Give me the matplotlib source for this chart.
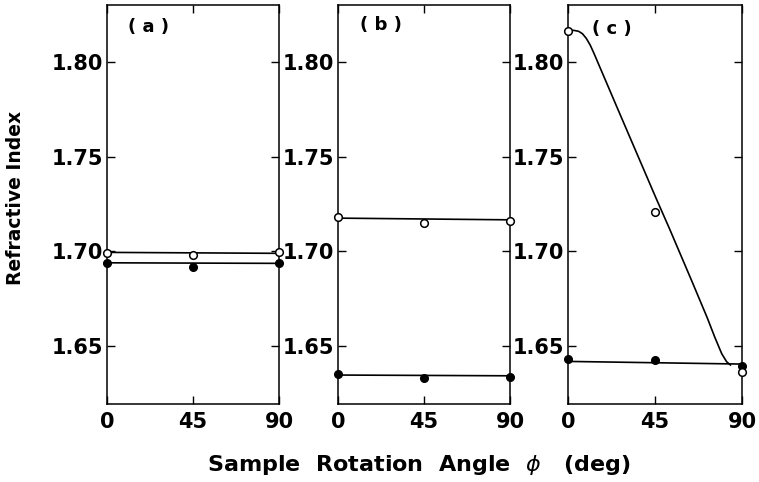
import numpy as np
import matplotlib.pyplot as plt

# rotation angles (deg)
angles = [0, 45, 90]
xticks = [0, 45, 90]
yticks = [1.65, 1.70, 1.75, 1.80]
panel_labels = ['( a )', '( b )', '( c )']

# measured refractive index, open = one direction, filled = the other
open_a = [1.6991, 1.6979, 1.6996]
filled_a = [1.6938, 1.6920, 1.6938]
open_b = [1.7184, 1.7149, 1.7162]
filled_b = [1.6351, 1.6333, 1.6339]
open_c = [1.8167, 1.7210, 1.6365]
filled_c = [1.6431, 1.6428, 1.6394]

# fitted lines (end points)
fit_x = [0, 90]
fit_open_a = [1.6995, 1.6990]
fit_filled_a = [1.6940, 1.6937]
fit_open_b = [1.7176, 1.7167]
fit_filled_b = [1.6347, 1.6343]
fit_filled_c = [1.6419, 1.6405]

# hand-drawn curve through panel (c) open points
curve_c_x = [0, 3, 5.5, 7.5, 9.5, 11.5, 13.5, 16, 18.1, 25, 35.3, 45.6, 52.5,
             64.4, 72, 76, 79.5, 82, 84]
curve_c_y = [1.8167, 1.8168, 1.8163, 1.8150, 1.8125, 1.8090, 1.8045, 1.7985,
             1.7935, 1.7770, 1.7525, 1.7280, 1.7120, 1.6835, 1.6650, 1.6545,
             1.6460, 1.6418, 1.6400]

plt.rcParams['font.family'] = 'DejaVu Sans'

fig = plt.figure(figsize=(7.59, 4.82), dpi=100)

lefts = [107 / 759, 338 / 759, 568 / 759]
widths = [172 / 759, 172 / 759, 174 / 759]
bottom = 1 - 404 / 482
height = 399 / 482

panels = [
    (open_a, filled_a, [(fit_x, fit_open_a), (fit_x, fit_filled_a)]),
    (open_b, filled_b, [(fit_x, fit_open_b), (fit_x, fit_filled_b)]),
    (open_c, filled_c, [(curve_c_x, curve_c_y), (fit_x, fit_filled_c)]),
]
label_pos = [(0.12, 0.945), (0.125, 0.95), (0.14, 0.94)]

for i, (op, fi, lines) in enumerate(panels):
    ax = fig.add_axes([lefts[i], bottom, widths[i], height])
    for lx, ly in lines:
        ax.plot(lx, ly, color='black', lw=1.2)
    ax.plot(angles, fi, 'o', color='black', ms=5.5, clip_on=False, zorder=3)
    ax.plot(angles, op, 'o', mfc='white', mec='black', mew=1.1, ms=5.5,
            clip_on=False, zorder=4)
    ax.set_xlim(0, 90)
    ax.set_ylim(1.6194, 1.8302)
    ax.set_xticks(xticks)
    ax.set_yticks(yticks)
    ax.set_xticklabels([str(t) for t in xticks], fontsize=15, fontweight='bold')
    ax.set_yticklabels(['%.2f' % t for t in yticks], fontsize=15, fontweight='bold')
    ax.tick_params(direction='in', length=6, width=1, top=True, right=True)
    ax.tick_params(axis='x', pad=6)
    ax.tick_params(axis='y', pad=3)
    for s in ax.spines.values():
        s.set_linewidth(1.1)
    ax.text(label_pos[i][0], label_pos[i][1], panel_labels[i], transform=ax.transAxes,
            fontsize=13, fontweight='bold', va='center', ha='left')

fig.text(0.021, 0.589, 'Refractive Index', rotation=90, fontsize=13.5,
         fontweight='bold', ha='center', va='center')
fig.text(0.552, 0.035, r'Sample  Rotation  Angle  $\phi$   (deg)', fontsize=16,
         fontweight='bold', ha='center', va='center')

fig.savefig('out.png', dpi=100, facecolor='white')
